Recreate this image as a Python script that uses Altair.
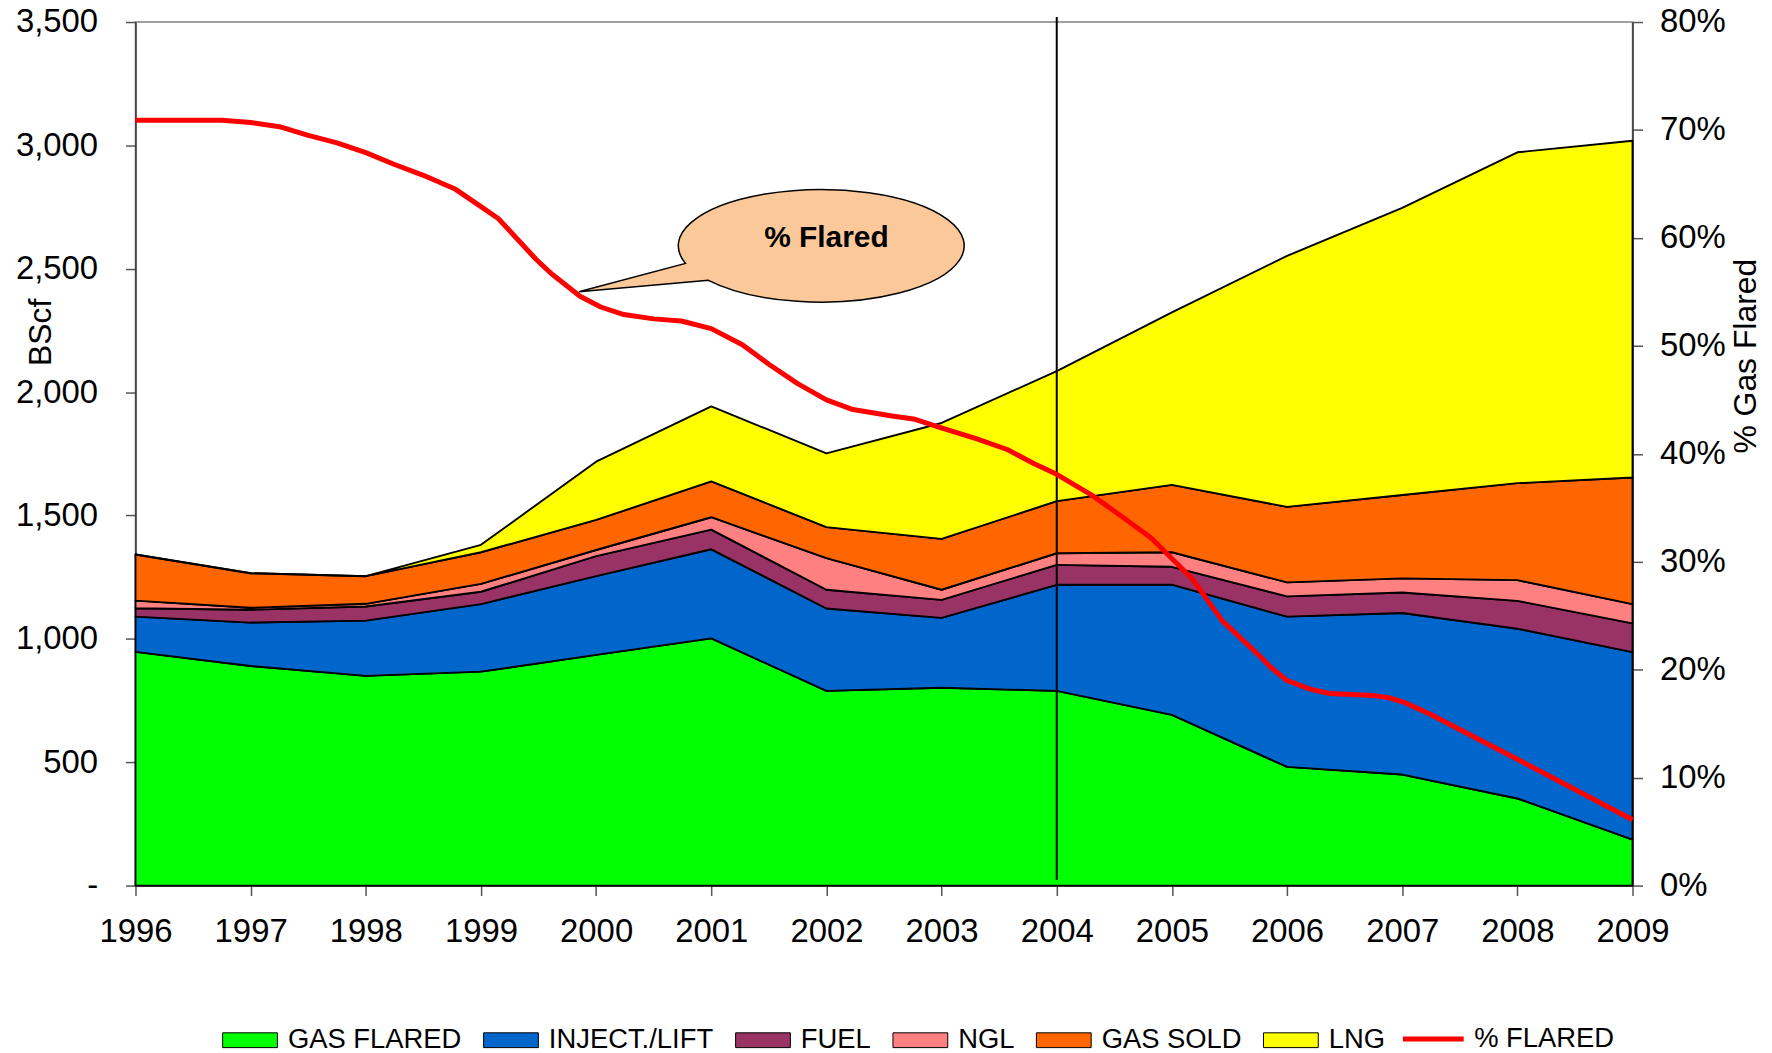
import altair as alt
import pandas as pd

# ---------------- data ----------------
years = list(range(1996, 2010))
series_names = ["GAS FLARED", "INJECT./LIFT", "FUEL", "NGL", "GAS SOLD", "LNG"]
series_colors = ["#00FF00", "#0066CC", "#993366", "#FF8080", "#FF6600", "#FFFF00"]

gas_flared = [947, 890, 850, 867, 935, 1002, 789, 802, 789, 692, 481, 450, 353, 186]
inject_lift = [143, 176, 224, 274, 319, 361, 334, 283, 430, 528, 609, 655, 688, 760]
fuel = [34, 52, 57, 50, 81, 80, 76, 73, 81, 72, 82, 83, 113, 117]
ngl = [31, 8, 11, 32, 25, 50, 128, 41, 47, 59, 57, 57, 84, 78]
gas_sold = [187, 140, 112, 128, 122, 145, 126, 206, 211, 273, 306, 338, 393, 513]
lng = [0, 0, 0, 30, 236, 304, 299, 470, 527, 699, 1017, 1164, 1341, 1365]

pct_years = [1996.0, 1996.75, 1997.0, 1997.25, 1997.5, 1997.75, 1998.0, 1998.25, 1998.5,
             1998.78, 1999.0, 1999.15, 1999.48, 1999.61, 1999.86, 2000.04, 2000.24, 2000.5,
             2000.74, 2001.0, 2001.27, 2001.5, 2001.75, 2002.0, 2002.23, 2002.57, 2002.77,
             2002.97, 2003.3, 2003.57, 2003.8, 2004.0, 2004.3, 2004.55, 2004.82, 2005.17,
             2005.44, 2005.75, 2005.86, 2006.0, 2006.2, 2006.37, 2006.75, 2006.89, 2007.01,
             2007.24, 2007.6, 2008.0, 2008.5, 2009.0]
pct_flared = [70.9, 70.9, 70.7, 70.3, 69.5, 68.8, 67.9, 66.8, 65.8,
              64.5, 62.9, 61.8, 58.0, 56.7, 54.6, 53.6, 52.9, 52.5,
              52.3, 51.6, 50.1, 48.3, 46.5, 45.0, 44.1, 43.5, 43.2,
              42.5, 41.4, 40.4, 39.1, 38.1, 36.2, 34.3, 32.2, 28.5,
              24.5, 21.4, 20.2, 19.0, 18.2, 17.8, 17.6, 17.4, 17.0,
              15.9, 13.9, 11.7, 8.9, 6.1]

left_ticks = [0, 500, 1000, 1500, 2000, 2500, 3000, 3500]
right_ticks = [0, 0.1, 0.2, 0.3, 0.4, 0.5, 0.6, 0.7, 0.8]

divider_year = [2004]
callout_year = [2002.0]
callout_value = [2585]
callout_text_value = [2626]
callout_label = ["% Flared"]

# ---------------- tables ----------------
series_values = [gas_flared, inject_lift, fuel, ngl, gas_sold, lng]
rows = []
for i, (name, vals) in enumerate(zip(series_names, series_values)):
    for y, v in zip(years, vals):
        rows.append({"year": y, "series": name, "value": v, "order": i})
area_df = pd.DataFrame(rows)

pct_df = pd.DataFrame({"year": pct_years, "pct": [p / 100 for p in pct_flared],
                       "label": ["% FLARED"] * len(pct_years)})

FONT = "Liberation Sans"
W, H = 1503, 867

x_enc = alt.X("year:Q",
              scale=alt.Scale(domain=[1996, 2009], nice=False, zero=False),
              axis=alt.Axis(values=years, format="d", title=None, labelFlush=False,
                            labelOverlap=False, labelPadding=20, tickSize=10,
                            labelFontSize=33))

left_y_scale = alt.Scale(domain=[0, 3500], nice=False)

area = alt.Chart(area_df).mark_area(stroke="black", strokeWidth=1.9, strokeJoin="round").encode(
    x=x_enc,
    y=alt.Y("value:Q", stack="zero", scale=left_y_scale,
            axis=alt.Axis(values=left_ticks, title="BScf", titleAngle=270,
                          titleX=-85, titleY=311, titleBaseline="alphabetic",
                          titleAlign="center",
                          labelExpr="datum.value == 0 ? '-\u2007\u2007' : format(datum.value, ',')",
                          labelPadding=28, tickSize=10, labelFontSize=33)),
    fill=alt.Fill("series:N", scale=alt.Scale(domain=series_names, range=series_colors),
                  legend=alt.Legend(title=None, orient="none", direction="horizontal",
                                    legendX=87, legendY=994,
                                    symbolType="M-1,-0.27H1V0.27H-1Z", symbolSize=3025,
                                    symbolStrokeColor="black", symbolStrokeWidth=1,
                                    symbolOpacity=1, labelFont=FONT, labelFontSize=27.5,
                                    labelColor="black", labelOffset=10, columnPadding=19,
                                    labelLimit=400, padding=0)),
    order=alt.Order("order:Q"),
)

rule = alt.Chart(pd.DataFrame({"year": divider_year, "top": [3520], "bottom": [24]})).mark_rule(
    color="black", strokeWidth=2).encode(
    x=alt.X("year:Q"),
    y=alt.Y("top:Q", scale=left_y_scale, axis=None),
    y2="bottom:Q",
)

line = alt.Chart(pct_df).mark_line(strokeWidth=5, strokeJoin="round").encode(
    x=alt.X("year:Q"),
    y=alt.Y("pct:Q", scale=alt.Scale(domain=[0, 0.8], nice=False),
            axis=alt.Axis(orient="right", values=right_ticks, format=".0%",
                          title="% Gas Flared", titleAngle=270, titleX=123, titleY=335,
                          titleBaseline="alphabetic", titleAlign="center",
                          labelPadding=17, tickSize=10, labelFontSize=33)),
    stroke=alt.Stroke("label:N", scale=alt.Scale(domain=["% FLARED"], range=["#FF0000"]),
                      legend=alt.Legend(title=None, orient="none", direction="horizontal",
                                        legendX=1270, legendY=988, symbolType="stroke",
                                        symbolSize=3721, symbolStrokeWidth=5,
                                        labelFont=FONT, labelFontSize=27.5, labelColor="black",
                                        labelOffset=8, labelLimit=400, padding=0)),
)

bubble_path = ("M-118.5,32.7 L-248.5,44.1 L-141.5,15.7 "
               "A143.5,56.5 0 1 1 -118.5,32.7 Z")
callout = alt.Chart(pd.DataFrame({"year": callout_year, "v": callout_value})).mark_point(
    shape=bubble_path, size=4, filled=True, fill="#FBC999", stroke="black",
    strokeWidth=1.5, opacity=1).encode(
    x=alt.X("year:Q"),
    y=alt.Y("v:Q", scale=left_y_scale, axis=None),
)

callout_text = alt.Chart(pd.DataFrame({"year": callout_year, "v": callout_text_value,
                                       "label": callout_label})).mark_text(
    font=FONT, fontSize=30, fontWeight="bold", color="black", align="center",
    baseline="middle").encode(
    x=alt.X("year:Q"),
    y=alt.Y("v:Q", scale=left_y_scale, axis=None),
    text="label:N",
)

chart = alt.layer(area, rule, line, callout, callout_text).resolve_scale(
    y="independent", fill="independent", stroke="independent"
).properties(
    width=W, height=H,
    padding={"left": 128, "top": 12, "right": 132, "bottom": 166},
    autosize=alt.AutoSizeParams(type="none"),
).configure_view(
    stroke="#808080", strokeWidth=1.5
).configure_axis(
    labelFont=FONT, titleFont=FONT, labelColor="black", titleColor="black",
    titleFontSize=32, titleFontWeight="normal", domainColor="#333333",
    tickColor="#555555", domainWidth=1.5, tickWidth=1.5, grid=False,
)

chart.save("out.html", embed_options={"renderer": "svg", "actions": False})
